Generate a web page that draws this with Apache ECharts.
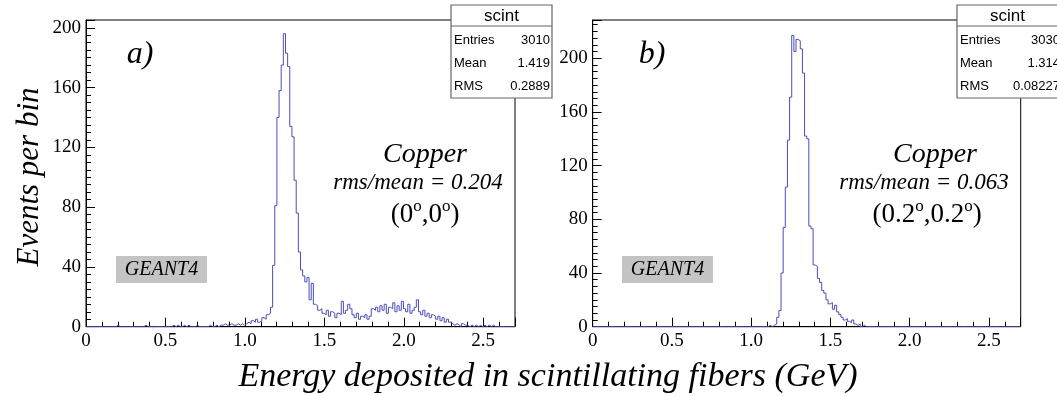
<!DOCTYPE html>
<html>
<head>
<meta charset="utf-8">
<script src="https://cdn.jsdelivr.net/npm/echarts@6/dist/echarts.min.js"></script>
<style>
  html, body { margin: 0; padding: 0; background: #fff; }
  #chart { width: 1057px; height: 396px; }
</style>
</head>
<body>
<div id="chart"></div>
<script>
// Histogram binning: 200 bins of 0.0135 GeV covering 0 .. 2.7 GeV
const binWidth = 0.0135;
const xMax = 2.7;
const xTickStep = 0.5;
const yTickStep = 40;

// a) Copper, (0°,0°)
const countsA = [
  0, 0, 0, 0, 0, 0, 0, 0, 0, 0, 0, 0, 0, 0, 1, 0, 0, 0, 0, 0,
  0, 0, 0, 0, 0, 0, 0, 1, 0, 0, 0, 0, 0, 0, 0, 0, 0, 0, 0, 0,
  1, 0, 1, 0, 0, 1, 0, 1, 0, 0, 0, 1, 0, 0, 0, 0, 0, 1, 0, 0,
  1, 0, 1, 1, 2, 1, 1, 2, 1, 1, 2, 1, 2, 1, 2, 3, 2, 4, 3, 5,
  3, 4, 6, 5, 8, 9, 13, 41, 81, 140, 158, 175, 196, 183, 174, 134, 127, 98, 76, 50,
  38, 34, 30, 33, 18, 29, 15, 14, 11, 12, 9, 8, 11, 7, 10, 9, 6, 9, 8, 17,
  9, 11, 15, 12, 8, 6, 9, 5, 7, 6, 8, 5, 7, 12, 11, 13, 10, 14, 11, 15,
  9, 13, 12, 16, 10, 14, 11, 17, 12, 10, 15, 9, 11, 13, 18, 10, 8, 11, 7, 9,
  6, 8, 7, 5, 7, 4, 6, 3, 5, 3, 2, 1, 2, 1, 0, 2, 1, 1, 0, 1,
  0, 1, 0, 1, 0, 1, 0, 1, 0, 1, 0, 0, 0, 0, 0, 0, 0, 0, 0, 0
];

// b) Copper, (0.2°,0.2°)
const countsB = [
  0, 0, 0, 0, 0, 0, 0, 0, 0, 0, 0, 0, 0, 0, 0, 0, 0, 0, 0, 0,
  0, 0, 0, 0, 0, 0, 0, 0, 0, 0, 0, 0, 0, 0, 0, 0, 0, 0, 0, 0,
  0, 0, 0, 0, 0, 0, 0, 0, 0, 0, 0, 0, 0, 0, 0, 0, 0, 0, 0, 0,
  0, 0, 0, 0, 0, 0, 0, 0, 0, 0, 0, 0, 0, 0, 0, 0, 0, 0, 0, 0,
  0, 0, 1, 0, 1, 2, 7, 12, 40, 74, 104, 139, 171, 217, 205, 214, 213, 207, 189, 142,
  140, 75, 73, 46, 45, 36, 33, 27, 25, 20, 17, 18, 13, 16, 11, 9, 7, 5, 6, 4,
  3, 5, 2, 1, 2, 0, 1, 0, 0, 0, 0, 0, 0, 0, 0, 0, 0, 0, 0, 0,
  0, 0, 0, 0, 0, 0, 0, 0, 0, 0, 0, 0, 0, 0, 0, 0, 0, 0, 0, 0,
  0, 0, 0, 0, 0, 0, 0, 0, 0, 0, 0, 0, 0, 0, 0, 0, 0, 0, 0, 0,
  0, 0, 0, 0, 0, 0, 0, 0, 0, 0, 0, 0, 0, 0, 0, 0, 0, 0, 0, 0
];

// Statistics boxes
const statTitle = 'scint';
const statLabels = ['Entries', 'Mean', 'RMS'];
const statsA = ['3010', '1.419', '0.2889'];
const statsB = ['3030', '1.314', '0.08227'];

// Annotations
const panelTags = ['a)', 'b)'];
const materials = ['Copper', 'Copper'];
const rmsOverMean = ['rms/mean = 0.204', 'rms/mean = 0.063'];
const angles = [['0', '0'], ['0.2', '0.2']];
const simLabel = 'GEANT4';
const yTitle = 'Events per bin';
const xTitle = 'Energy deposited in scintillating fibers (GeV)';

const SERIF = '"Liberation Serif", "Times New Roman", serif';
const SANS = '"Liberation Sans", Arial, sans-serif';
const LINE_COLOR = '#4d4db8';

// Outline of a histogram: left edge of each bin, closed at the last right edge
function stepPoints(counts) {
  const pts = counts.map((c, i) => [+(i * binWidth).toFixed(5), c]);
  pts.push([+(counts.length * binWidth).toFixed(5), counts[counts.length - 1]]);
  return pts;
}

function xAxis(gridIndex) {
  return {
    type: 'value', gridIndex, min: 0, max: xMax, interval: xTickStep,
    axisLine: { show: true, onZero: false, lineStyle: { color: '#000', width: 1 } },
    axisTick: { show: true, inside: true, length: 9, lineStyle: { color: '#000' } },
    minorTick: { show: true, splitNumber: 5, length: 5, lineStyle: { color: '#000' } },
    splitLine: { show: false },
    axisLabel: {
      color: '#000', fontFamily: SERIF, fontSize: 19, margin: 5, showMaxLabel: false,
      formatter: v => (v === 0 ? '0' : v.toFixed(1))
    }
  };
}

function yAxis(gridIndex, max) {
  return {
    type: 'value', gridIndex, min: 0, max, interval: yTickStep,
    axisLine: { show: true, onZero: false, lineStyle: { color: '#000', width: 1 } },
    axisTick: { show: true, inside: true, length: 9, lineStyle: { color: '#000' } },
    minorTick: { show: true, splitNumber: 8, length: 5, lineStyle: { color: '#000' } },
    splitLine: { show: false },
    axisLabel: {
      color: '#000', fontFamily: SERIF, fontSize: 19, margin: 5, showMaxLabel: false
    }
  };
}

function statBox(left, top, width, valueRight, values) {
  const rowH = 23.3;
  const children = [
    { type: 'rect', shape: { x: left, y: top, width, height: 93 },
      style: { fill: '#fff', stroke: '#666', lineWidth: 1.2 } },
    { type: 'line', shape: { x1: left, y1: top + 21, x2: left + width, y2: top + 21 },
      style: { stroke: '#666', lineWidth: 1.2 } },
    { type: 'text', x: left + 50.5, y: top + 11,
      style: { text: statTitle, font: '17px ' + SANS, fill: '#000', align: 'center', verticalAlign: 'middle' } }
  ];
  statLabels.forEach((lab, i) => {
    const cy = top + 35 + i * rowH;
    children.push({ type: 'text', x: left + 3, y: cy,
      style: { text: lab, font: '13px ' + SANS, fill: '#000', align: 'left', verticalAlign: 'middle' } });
    children.push({ type: 'text', x: valueRight, y: cy,
      style: { text: values[i], font: '13px ' + SANS, fill: '#000', align: 'right', verticalAlign: 'middle' } });
  });
  return { type: 'group', z: 100, children };
}

function panelText(i, cx) {
  return [
    { type: 'text', x: cx.tagX, y: 55, z: 50,
      style: { text: panelTags[i], font: 'italic 32px ' + SERIF, fill: '#000', align: 'center', verticalAlign: 'middle' } },
    { type: 'text', x: cx.mat, y: 155, z: 50,
      style: { text: materials[i], font: 'italic 28px ' + SERIF, fill: '#000', align: 'center', verticalAlign: 'middle' } },
    { type: 'text', x: cx.rms, y: 183, z: 50,
      style: { text: rmsOverMean[i], font: 'italic 23px ' + SERIF, fill: '#000', align: 'center', verticalAlign: 'middle' } },
    // angle pair with raised degree marks
    { type: 'text', x: cx.ang, y: 213, z: 50,
      style: {
        text: '{n|(' + angles[i][0] + '}{s|o}{n|,' + angles[i][1] + '}{s|o}{n|)}',
        align: 'center', verticalAlign: 'middle',
        rich: {
          n: { font: '27px ' + SERIF, fill: '#000', verticalAlign: 'bottom' },
          s: { font: '17px ' + SERIF, fill: '#000', verticalAlign: 'top', padding: [0, 0, 13, 0] }
        }
      } },
    { type: 'rect', z: 50, shape: { x: cx.geant, y: 256, width: 91, height: 27 },
      style: { fill: '#c4c4c4', stroke: null } },
    { type: 'text', x: cx.geant + 45.5, y: 269.5, z: 51,
      style: { text: simLabel, font: 'italic 20px ' + SERIF, fill: '#000', align: 'center', verticalAlign: 'middle' } }
  ];
}

const chart = echarts.init(document.getElementById('chart'), null, { renderer: 'canvas' });

chart.setOption({
  animation: false,
  backgroundColor: '#fff',
  grid: [
    { left: 86, top: 20, width: 429, height: 306.7, show: true, borderColor: '#000', borderWidth: 1, containLabel: false },
    { left: 592.7, top: 20, width: 428, height: 306.7, show: true, borderColor: '#000', borderWidth: 1, containLabel: false }
  ],
  xAxis: [xAxis(0), xAxis(1)],
  yAxis: [yAxis(0, 205.2), yAxis(1, 228.5)],
  series: [
    { type: 'line', xAxisIndex: 0, yAxisIndex: 0, step: 'end', data: stepPoints(countsA),
      showSymbol: false, symbol: 'none', lineStyle: { color: LINE_COLOR, width: 1 }, silent: true },
    { type: 'line', xAxisIndex: 1, yAxisIndex: 1, step: 'end', data: stepPoints(countsB),
      showSymbol: false, symbol: 'none', lineStyle: { color: LINE_COLOR, width: 1 }, silent: true }
  ],
  graphic: [
    statBox(451, 5, 101, 550, statsA),
    statBox(957, 5, 108, 1060, statsB),
    ...panelText(0, { tagX: 140, mat: 425, rms: 418, ang: 425, geant: 116 }),
    ...panelText(1, { tagX: 652, mat: 935, rms: 924, ang: 927, geant: 622 }),
    { type: 'text', x: 30, y: 177, rotation: Math.PI / 2,
      style: { text: yTitle, font: 'italic 31px ' + SERIF, fill: '#000', align: 'center', verticalAlign: 'middle' } },
    { type: 'text', x: 548, y: 377,
      style: { text: xTitle, font: 'italic 34px ' + SERIF, fill: '#000', align: 'center', verticalAlign: 'middle' } }
  ]
});
</script>
</body>
</html>
